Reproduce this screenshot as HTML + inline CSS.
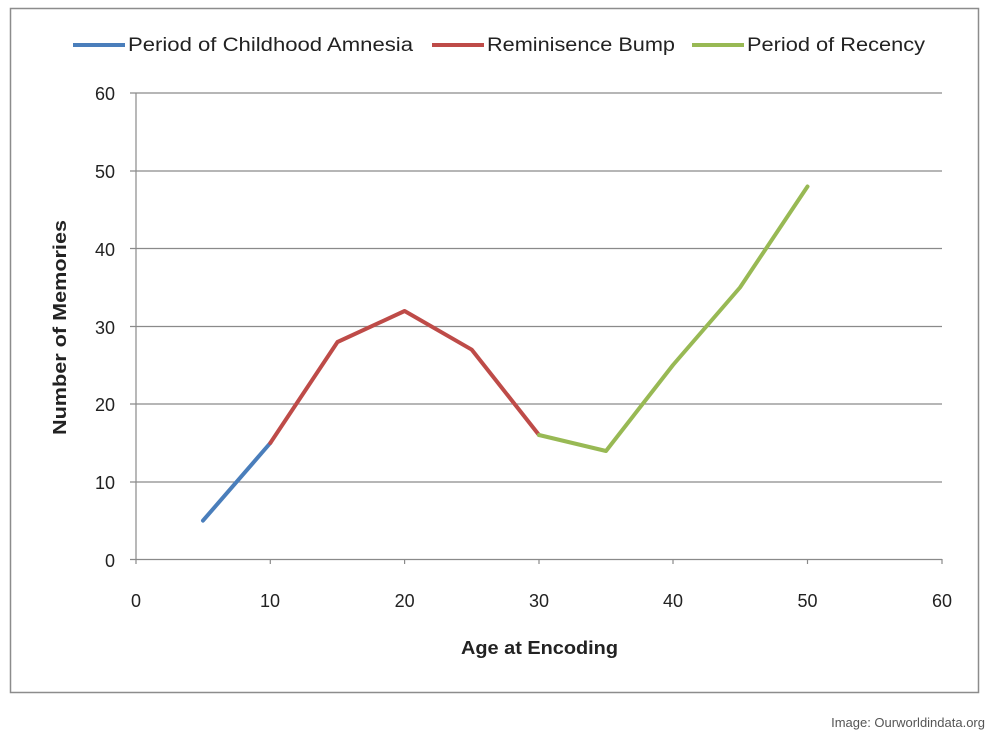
<!DOCTYPE html>
<html><head><style>
body{margin:0;background:#fff;width:990px;height:735px;overflow:hidden}
svg text{font-family:"Liberation Sans","DejaVu Sans",sans-serif;fill:#222}
</style></head><body>
<svg width="990" height="735" viewBox="0 0 990 735">
<rect x="10.5" y="8.5" width="968" height="684" fill="#fff" stroke="#8c8c8c" stroke-width="1.5"/>
<g stroke="#8a8a8a" stroke-width="1.2">
<line x1="130" y1="93" x2="942" y2="93"/>
<line x1="130" y1="171" x2="942" y2="171"/>
<line x1="130" y1="248.5" x2="942" y2="248.5"/>
<line x1="130" y1="326.5" x2="942" y2="326.5"/>
<line x1="130" y1="404" x2="942" y2="404"/>
<line x1="130" y1="482" x2="942" y2="482"/>
<line x1="130" y1="559.5" x2="942" y2="559.5"/>
<line x1="136" y1="93" x2="136" y2="564"/>
<line x1="270.3" y1="559" x2="270.3" y2="564"/>
<line x1="404.6" y1="559" x2="404.6" y2="564"/>
<line x1="539" y1="559" x2="539" y2="564"/>
<line x1="673" y1="559" x2="673" y2="564"/>
<line x1="807.5" y1="559" x2="807.5" y2="564"/>
<line x1="942" y1="559" x2="942" y2="564"/>
</g>
<g font-size="18" text-anchor="end">
<text x="115" y="100">60</text><text x="115" y="178">50</text><text x="115" y="256">40</text>
<text x="115" y="334">30</text><text x="115" y="411">20</text><text x="115" y="489">10</text><text x="115" y="567">0</text>
</g>
<g font-size="18" text-anchor="middle">
<text x="136" y="607">0</text><text x="270" y="607">10</text><text x="404.6" y="607">20</text>
<text x="539" y="607">30</text><text x="673" y="607">40</text><text x="807.5" y="607">50</text><text x="942" y="607">60</text>
</g>
<text x="461" y="654" font-size="18" font-weight="bold" textLength="157" lengthAdjust="spacingAndGlyphs">Age at Encoding</text>
<text transform="translate(66,435) rotate(-90)" font-size="18" font-weight="bold" textLength="215" lengthAdjust="spacingAndGlyphs">Number of Memories</text>
<g fill="none" stroke-width="4" stroke-linejoin="round" stroke-linecap="round">
<polyline stroke="#4a7ebb" points="203,520.6 270.3,443"/>
<polyline stroke="#be4b48" points="270.3,443 337.5,342 404.6,311 471.8,349.7 539,435"/>
<polyline stroke="#98b954" points="539,435 606,451 673,365 740,287.5 807.5,186.5"/>
</g>
<g stroke-width="4">
<line x1="73" y1="45" x2="125" y2="45" stroke="#4a7ebb"/>
<line x1="432" y1="45" x2="484" y2="45" stroke="#be4b48"/>
<line x1="692" y1="45" x2="744" y2="45" stroke="#98b954"/>
</g>
<g font-size="19">
<text x="128" y="51" textLength="285" lengthAdjust="spacingAndGlyphs">Period of Childhood  Amnesia</text>
<text x="487" y="51" textLength="188" lengthAdjust="spacingAndGlyphs">Reminisence Bump</text>
<text x="747" y="51" textLength="178" lengthAdjust="spacingAndGlyphs">Period of Recency</text>
</g>
<text x="985" y="727" font-size="13" text-anchor="end" style="fill:#555">Image: Ourworldindata.org</text>
</svg>
</body></html>
